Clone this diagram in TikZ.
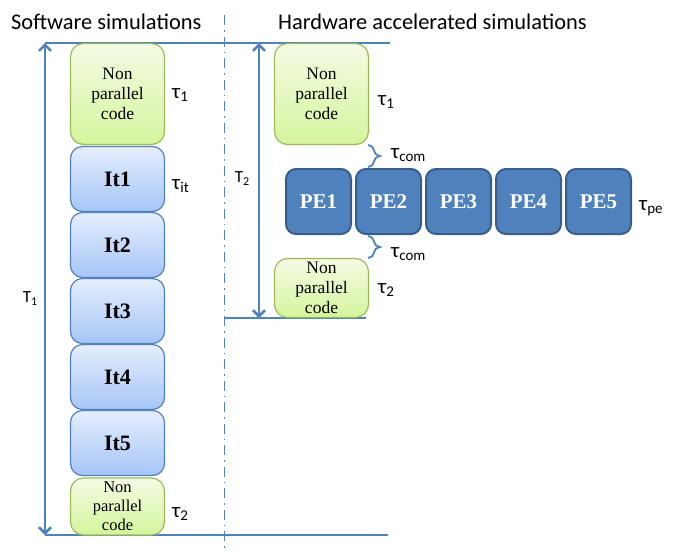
\documentclass[tikz,border=0pt]{standalone}
\usepackage{fontspec}
\setmainfont{Liberation Serif}
\newfontfamily\calfont{Carlito}
\usetikzlibrary{decorations.pathreplacing,arrows.meta}
\definecolor{lblue}{HTML}{4F81BD}
\definecolor{npborder}{HTML}{9BBB59}
\definecolor{nptop}{HTML}{F4FBE4}
\definecolor{npbot}{HTML}{D5F59C}
\definecolor{itborder}{HTML}{4F81BD}
\definecolor{ittop}{HTML}{E4EEFD}
\definecolor{itbot}{HTML}{A6C5F7}
\definecolor{pefill}{HTML}{4F81BD}
\definecolor{peborder}{HTML}{385D8A}
\newcommand\lsub[1]{\raisebox{-3.5pt}{\fontsize{15}{15}\selectfont #1}}
\newcommand\ssub[1]{\raisebox{-3pt}{\fontsize{12}{12}\selectfont #1}}
\begin{document}
\begin{tikzpicture}[x=1pt,y=-1pt,
 np/.style={draw=npborder, line width=1.2pt, rounded corners=13pt, top color=nptop, bottom color=npbot, minimum width=94pt, align=center, inner sep=0pt, font=\fontsize{17.5}{20}\selectfont},
 itbox/.style={draw=itborder, line width=1.2pt, rounded corners=12pt, top color=ittop, bottom color=itbot, minimum width=94pt, minimum height=65pt, inner sep=0pt, font=\fontsize{22}{22}\selectfont\bfseries},
 pebox/.style={draw=peborder, line width=2pt, rounded corners=10pt, fill=pefill, minimum width=65pt, minimum height=65pt, inner sep=0pt, text=white, font=\fontsize{21}{21}\selectfont\bfseries},
 tau/.style={font=\calfont\fontsize{21}{21}\selectfont, anchor=base west, inner sep=0pt},
 title/.style={font=\calfont\fontsize{22.4}{22.4}\selectfont, anchor=base west, inner sep=0pt},
 dim/.style={draw=lblue, line width=2.6pt, {Straight Barb[length=6pt,width=12pt]}-{Straight Barb[length=6pt,width=12pt]}},
 guide/.style={draw=lblue, line width=1.1pt},
 brc/.style={decorate, decoration={brace, amplitude=12pt}, draw=lblue, line width=1.8pt}]
\useasboundingbox (0,0) rectangle (683,550);

% titles
\node[title] (t1) at (11,29) {Software simulations};
\node[title] (t2) at (278,29) {Hardware accelerated simulations};

% separator
\coordinate (s1) at (224,15);
\coordinate (s2) at (224,550);
\draw[lblue, line width=1pt, dash pattern=on 10pt off 5pt on 1.5pt off 5pt] (s1) -- (s2);

% guide lines
\coordinate (tl) at (45,43);
\coordinate (tr) at (390,43);
\coordinate (bl) at (45,535);
\coordinate (br) at (388,535);
\coordinate (ml) at (224,318);
\coordinate (mr) at (366,318);
\draw[guide] (tl) -- (tr);
\draw[guide] (bl) -- (br);
\draw[guide] (ml) -- (mr);

% dimension arrows
\coordinate (ra) at (259,43);
\coordinate (rb) at (259,318);
\draw[dim] (tl) -- (bl);
\draw[dim] (ra) -- (rb);
\node[font=\calfont\fontsize{17}{17}\selectfont, anchor=base, inner sep=0pt] (T1) at (30,302) {Τ\ssub{1}};
\node[font=\calfont\fontsize{17}{17}\selectfont, anchor=base, inner sep=0pt] (T2) at (242,182) {Τ\ssub{2}};

% software column
\node[np, minimum height=101pt] (npA) at (117.5,94) {Non\\parallel\\code};
\node[itbox] (it1) at (117.5,179) {It1};
\node[itbox] (it2) at (117.5,245) {It2};
\node[itbox] (it3) at (117.5,311) {It3};
\node[itbox] (it4) at (117.5,377) {It4};
\node[itbox] (it5) at (117.5,443) {It5};
\node[np, minimum height=57pt, font=\fontsize{16.5}{19}\selectfont] (npB) at (117.5,506.5) {Non\\parallel\\code};

\node[tau] (ta1) at (172,98) {τ\lsub{1}};
\node[tau] (tait) at (172,189) {τ\lsub{it}};
\node[tau] (ta2) at (172,517) {τ\lsub{2}};

% hardware column
\node[np, minimum height=101pt] (npC) at (321.5,94) {Non\\parallel\\code};
\node[pebox] (pe1) at (318.5,201.5) {PE1};
\node[pebox] (pe2) at (388.5,201.5) {PE2};
\node[pebox] (pe3) at (458.5,201.5) {PE3};
\node[pebox] (pe4) at (528.5,201.5) {PE4};
\node[pebox] (pe5) at (598.5,201.5) {PE5};
\node[np, minimum height=59pt] (npD) at (321.5,288) {Non\\parallel\\code};

\node[tau] (tb1) at (378,105) {τ\lsub{1}};
\node[tau] (tc1) at (391,158) {τ\lsub{com}};
\node[tau] (tpe) at (639,210) {τ\lsub{pe}};
\node[tau] (tc2) at (391,257) {τ\lsub{com}};
\node[tau] (tb2) at (378,293) {τ\lsub{2}};

% braces
\coordinate (b1a) at (368,145);
\coordinate (b1b) at (368,167);
\coordinate (b2a) at (368,236);
\coordinate (b2b) at (368,258);
\draw[brc] (b1a) -- (b1b);
\draw[brc] (b2a) -- (b2b);
\end{tikzpicture}
\end{document}
